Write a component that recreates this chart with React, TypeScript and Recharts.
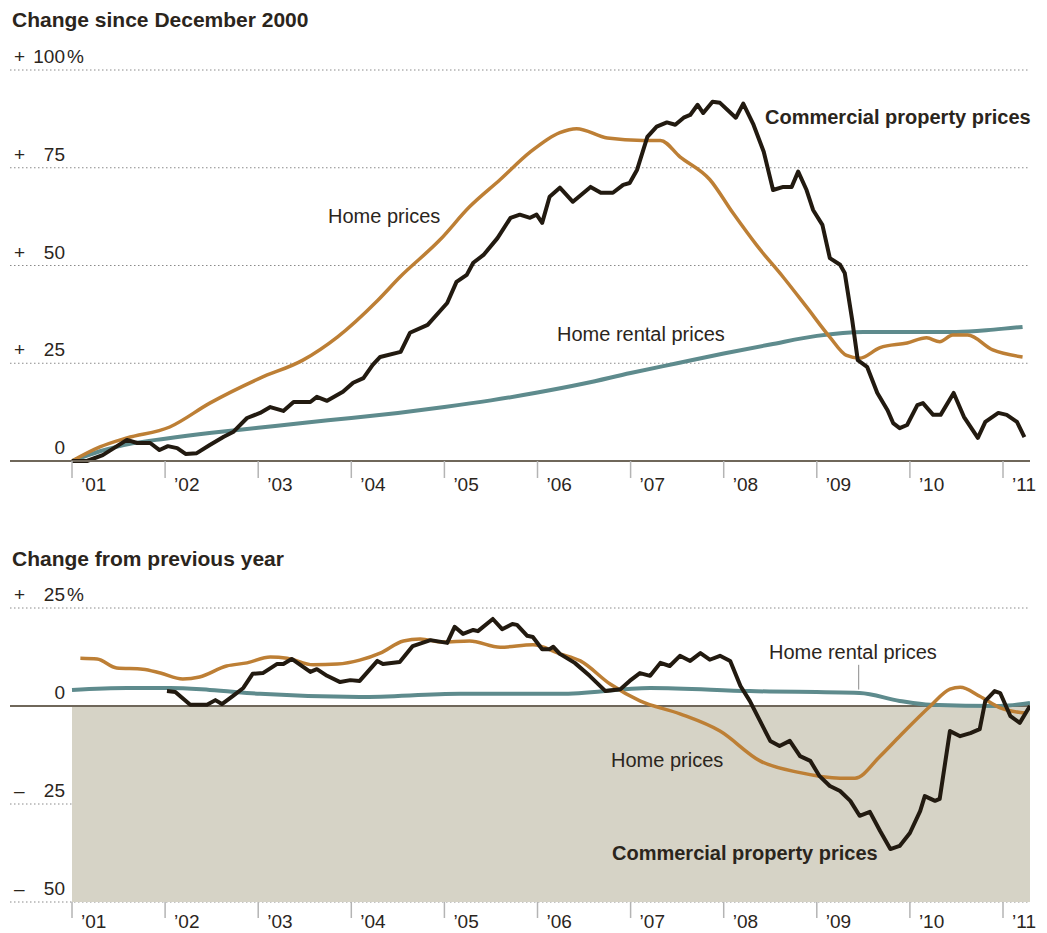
import { LineChart, ComposedChart, Line, XAxis, YAxis, CartesianGrid, ReferenceArea, ReferenceLine } from 'recharts';

// decimal years, top panel: change since December 2000 (%)
const topHomeX = [2001.0, 2001.3, 2001.59, 2002.05, 2002.48, 2003.02, 2003.48, 2003.85, 2004.28, 2004.52, 2004.95, 2005.27, 2005.6, 2005.92, 2006.24, 2006.42, 2006.75, 2007.13, 2007.32, 2007.53, 2007.85, 2008.1, 2008.36, 2008.64, 2008.89, 2009.14, 2009.32, 2009.46, 2009.68, 2009.97, 2010.18, 2010.32, 2010.46, 2010.62, 2010.89, 2011.21];
const topHomeY = [0, 3.6, 5.9, 8.7, 14.8, 21.2, 25.8, 31.7, 41, 47, 56.5, 65, 72, 79, 84, 85, 82.6, 82, 82, 77.8, 72, 63.4, 55, 47, 39.4, 31.7, 27, 26.3, 29, 30.2, 31.5, 30.5, 32.2, 32.2, 28.4, 26.6];

const topRentX = [2001.0, 2001.3, 2001.65, 2002.0, 2002.5, 2003.0, 2003.5, 2004.0, 2004.5, 2005.0, 2005.5, 2006.0, 2006.5, 2007.0, 2007.5, 2008.0, 2008.5, 2009.0, 2009.5, 2010.0, 2010.5, 2010.9, 2011.21];
const topRentY = [0, 2.5, 4.5, 5.7, 7.2, 8.5, 9.8, 11, 12.3, 13.8, 15.5, 17.5, 19.8, 22.5, 25, 27.5, 29.8, 32, 33, 33, 33, 33.6, 34.3];

const topCommX = [2001.0, 2001.16, 2001.33, 2001.59, 2001.7, 2001.84, 2001.94, 2002.03, 2002.13, 2002.22, 2002.34, 2002.48, 2002.63, 2002.73, 2002.88, 2003.02, 2003.13, 2003.27, 2003.38, 2003.56, 2003.63, 2003.74, 2003.91, 2004.02, 2004.13, 2004.23, 2004.31, 2004.53, 2004.63, 2004.82, 2005.03, 2005.13, 2005.24, 2005.31, 2005.42, 2005.57, 2005.71, 2005.81, 2005.92, 2005.99, 2006.05, 2006.13, 2006.24, 2006.38, 2006.57, 2006.68, 2006.81, 2006.92, 2006.99, 2007.07, 2007.18, 2007.28, 2007.39, 2007.48, 2007.57, 2007.64, 2007.72, 2007.78, 2007.88, 2007.96, 2008.13, 2008.21, 2008.32, 2008.43, 2008.53, 2008.64, 2008.73, 2008.8, 2008.89, 2008.96, 2009.06, 2009.14, 2009.25, 2009.3, 2009.38, 2009.44, 2009.54, 2009.65, 2009.76, 2009.82, 2009.89, 2009.97, 2010.08, 2010.14, 2010.25, 2010.33, 2010.47, 2010.58, 2010.73, 2010.81, 2010.95, 2011.04, 2011.15, 2011.23];
const topCommY = [0, 0, 1.5, 5.4, 4.6, 4.6, 2.8, 3.8, 3.3, 1.8, 2.0, 4.1, 6.2, 7.4, 11, 12.3, 13.8, 12.8, 15.1, 15.1, 16.4, 15.4, 17.7, 20, 21.2, 24.6, 26.6, 27.9, 32.8, 34.8, 40.4, 45.8, 47.6, 50.7, 52.7, 57, 62.2, 63, 62.2, 63, 60.9, 67.6, 69.9, 66.3, 70.1, 68.6, 68.6, 70.6, 71.1, 74.5, 82.9, 85.5, 86.6, 86, 87.8, 88.5, 91.1, 89, 91.9, 91.6, 87.8, 91.4, 86, 79.1, 69.3, 70.1, 70.1, 74, 69.3, 64.2, 60.4, 51.9, 50.2, 48.1, 36.1, 25.8, 24.1, 17.4, 13, 9.7, 8.4, 9.2, 14.3, 14.8, 11.8, 11.8, 17.4, 11.3, 5.9, 10, 12.3, 11.8, 10, 6.1];

// bottom panel: change from previous year (%)
const botHomeX = [2001.09, 2001.27, 2001.48, 2001.76, 2001.95, 2002.19, 2002.37, 2002.66, 2002.88, 2003.13, 2003.31, 2003.59, 2003.85, 2004.09, 2004.31, 2004.56, 2004.74, 2004.98, 2005.27, 2005.6, 2005.95, 2006.24, 2006.46, 2006.78, 2007.1, 2007.53, 2007.96, 2008.39, 2008.82, 2009.25, 2009.41, 2009.68, 2009.89, 2010.22, 2010.43, 2010.54, 2010.75, 2010.97, 2011.24];
const botHomeY = [12.2, 12, 9.7, 9.4, 8.4, 6.9, 7.4, 10.2, 11, 12.5, 12.2, 10.5, 10.7, 11.7, 13.5, 16.6, 17.1, 16.3, 16.6, 15, 15.6, 13.3, 11.5, 5.6, 1.3, -2, -6.4, -14, -17, -18.4, -18.4, -12.8, -7.7, 0, 4.3, 4.8, 2.5, -0.5, -1.8];

const botRentX = [2001.0, 2001.59, 2002.05, 2002.48, 2003.02, 2004.09, 2005.17, 2006.24, 2007.21, 2008.28, 2009.46, 2009.89, 2010.22, 2010.97, 2011.29];
const botRentY = [4.1, 4.6, 4.6, 4.1, 3.1, 2.3, 3.1, 3.1, 4.6, 3.8, 3.3, 1.3, 0.3, 0, 0.8];

const botCommX = [2002.02, 2002.11, 2002.27, 2002.45, 2002.54, 2002.61, 2002.73, 2002.84, 2002.94, 2003.05, 2003.2, 2003.27, 2003.36, 2003.56, 2003.63, 2003.74, 2003.88, 2003.99, 2004.09, 2004.28, 2004.34, 2004.52, 2004.66, 2004.85, 2005.03, 2005.11, 2005.2, 2005.31, 2005.36, 2005.52, 2005.62, 2005.73, 2005.78, 2005.89, 2005.95, 2006.05, 2006.13, 2006.17, 2006.24, 2006.4, 2006.56, 2006.73, 2006.89, 2006.99, 2007.1, 2007.21, 2007.32, 2007.42, 2007.53, 2007.64, 2007.75, 2007.85, 2007.96, 2008.07, 2008.18, 2008.28, 2008.39, 2008.5, 2008.6, 2008.71, 2008.82, 2008.93, 2009.03, 2009.14, 2009.25, 2009.36, 2009.46, 2009.57, 2009.68, 2009.79, 2009.89, 2010.0, 2010.11, 2010.16, 2010.27, 2010.32, 2010.43, 2010.54, 2010.65, 2010.75, 2010.81, 2010.91, 2010.97, 2011.08, 2011.18, 2011.29];
const botCommY = [3.8, 3.6, 0.3, 0.3, 1.5, 0.5, 2.6, 4.6, 8.2, 8.4, 10.7, 10.7, 12, 8.7, 9.4, 7.7, 6.1, 6.6, 6.4, 11.5, 10.7, 11.2, 15.3, 16.8, 16.1, 20.2, 18.4, 19.4, 19.1, 22.2, 19.6, 20.9, 20.7, 17.9, 17.6, 14.5, 14.5, 15.1, 13.3, 11, 7.7, 3.8, 4.3, 6.4, 8.4, 7.7, 11, 10.2, 12.8, 11.5, 13.5, 11.8, 12.8, 11.5, 5.1, 1.3, -3.8, -8.9, -10.2, -8.9, -12.8, -14, -17.9, -20.4, -21.7, -24.2, -28, -27, -31.9, -36.5, -35.7, -32.4, -26.8, -23, -24.2, -23.7, -6.4, -7.7, -6.9, -5.9, 1.3, 3.8, 3.3, -2.6, -4.3, 0];

const yearTicks = [2001, 2002, 2003, 2004, 2005, 2006, 2007, 2008, 2009, 2010, 2011];
const topTicks = [0, 25, 50, 75, 100];
const botTicks = [-50, -25, 0, 25];

const X_DOMAIN: [number, number] = [2000.334, 2011.29];
const FONT = '"Liberation Sans", Arial, sans-serif';
const INK = '#2b251c';
const ORANGE = '#bd7f35';
const BLACK = '#221a10';
const TEAL = '#5e8b8d';
const AXIS = '#6f675a';

const zip = (xs: number[], ys: number[]) => xs.map((x, i) => ({ x, v: ys[i] }));

const YearTick = (props: any) => {
  const { x, y, payload, dy } = props;
  return (
    <text x={x + 9} y={y + dy} fontFamily={FONT} fontSize={19} fill={INK}>
      {'’' + String(payload.value).slice(2)}
    </text>
  );
};

const PctTick = (props: any) => {
  const { y, payload, pctAt } = props;
  const v = payload.value as number;
  const sign = v > 0 ? '+' : v < 0 ? '–' : '';
  return (
    <g fontFamily={FONT} fontSize={19} fill={INK}>
      <text x={6} y={y - 7}>{sign}</text>
      <text x={57} y={y - 7} textAnchor="end">{Math.abs(v)}</text>
      {v === pctAt ? <text x={59} y={y - 7}>%</text> : null}
    </g>
  );
};

const gridProps = { vertical: false, stroke: '#8a8a8a', strokeDasharray: '1.5 2.5' };

const App = () => {
  return (
    <div style={{ position: 'relative', width: 1039, height: 925 }}>
      <div style={{ position: 'absolute', left: 0, top: 0 }}>
        <LineChart width={1039} height={500} margin={{ top: 62, right: 17, left: 2, bottom: 0 }}>
          <CartesianGrid {...gridProps} />
          <XAxis
            dataKey="x"
            type="number"
            domain={X_DOMAIN}
            allowDataOverflow
            ticks={yearTicks}
            interval={0}
            height={47}
            axisLine={{ stroke: AXIS, strokeWidth: 2 }}
            tickLine={{ stroke: '#b4b4b4', strokeWidth: 1.5 }}
            tickSize={17}
            tick={<YearTick dy={11} />}
          />
          <YAxis type="number" domain={[0, 100]} ticks={topTicks} mirror axisLine={false} tickLine={false} tick={<PctTick pctAt={100} />} />
          <Line data={zip(topRentX, topRentY)} dataKey="v" type="monotone" stroke={TEAL} strokeWidth={4} dot={false} isAnimationActive={false} />
          <Line data={zip(topHomeX, topHomeY)} dataKey="v" type="monotone" stroke={ORANGE} strokeWidth={3.5} dot={false} isAnimationActive={false} />
          <Line data={zip(topCommX, topCommY)} dataKey="v" type="linear" stroke={BLACK} strokeWidth={4} strokeLinejoin="round" dot={false} isAnimationActive={false} />
        </LineChart>
      </div>
      <div style={{ position: 'absolute', left: 0, top: 540 }}>
        <ComposedChart width={1039} height={385} margin={{ top: 60, right: 17, left: 2, bottom: 0 }}>
          <ReferenceArea x1={2001} x2={X_DOMAIN[1]} y1={-50} y2={0} fill="#d6d3c6" fillOpacity={1} stroke="none" ifOverflow="hidden" />
          <CartesianGrid {...gridProps} />
          <ReferenceLine y={0} stroke={AXIS} strokeWidth={2} />
          <ReferenceLine segment={[{ x: 2009.45, y: 4.2 }, { x: 2009.45, y: 10.5 }]} stroke="#8a8a8a" strokeWidth={1} />
          <XAxis
            dataKey="x"
            type="number"
            domain={X_DOMAIN}
            allowDataOverflow
            ticks={yearTicks}
            interval={0}
            height={31}
            axisLine={false}
            tickLine={{ stroke: '#b4b4b4', strokeWidth: 1.5 }}
            tickSize={16}
            tick={<YearTick dy={8} />}
          />
          <YAxis type="number" domain={[-50, 25]} ticks={botTicks} mirror axisLine={false} tickLine={false} tick={<PctTick pctAt={25} />} />
          <Line data={zip(botRentX, botRentY)} dataKey="v" type="monotone" stroke={TEAL} strokeWidth={4} dot={false} isAnimationActive={false} />
          <Line data={zip(botHomeX, botHomeY)} dataKey="v" type="monotone" stroke={ORANGE} strokeWidth={3.5} dot={false} isAnimationActive={false} />
          <Line data={zip(botCommX, botCommY)} dataKey="v" type="linear" stroke={BLACK} strokeWidth={4} strokeLinejoin="round" dot={false} isAnimationActive={false} />
        </ComposedChart>
      </div>
      <svg width={1039} height={925} style={{ position: 'absolute', left: 0, top: 0, pointerEvents: 'none' }} fontFamily={FONT} fill={INK}>
        <text x={4} y={19} fontSize={21} fontWeight="bold">Change since December 2000</text>
        <text x={4} y={558} fontSize={21} fontWeight="bold">Change from previous year</text>
        <text x={757} y={116} fontSize={20} fontWeight="bold">Commercial property prices</text>
        <text x={320} y={215} fontSize={20}>Home prices</text>
        <text x={549} y={333} fontSize={20}>Home rental prices</text>
        <text x={761} y={651} fontSize={20}>Home rental prices</text>
        <text x={603} y={759} fontSize={20}>Home prices</text>
        <text x={604} y={852} fontSize={20} fontWeight="bold">Commercial property prices</text>
      </svg>
    </div>
  );
};

export default App;
